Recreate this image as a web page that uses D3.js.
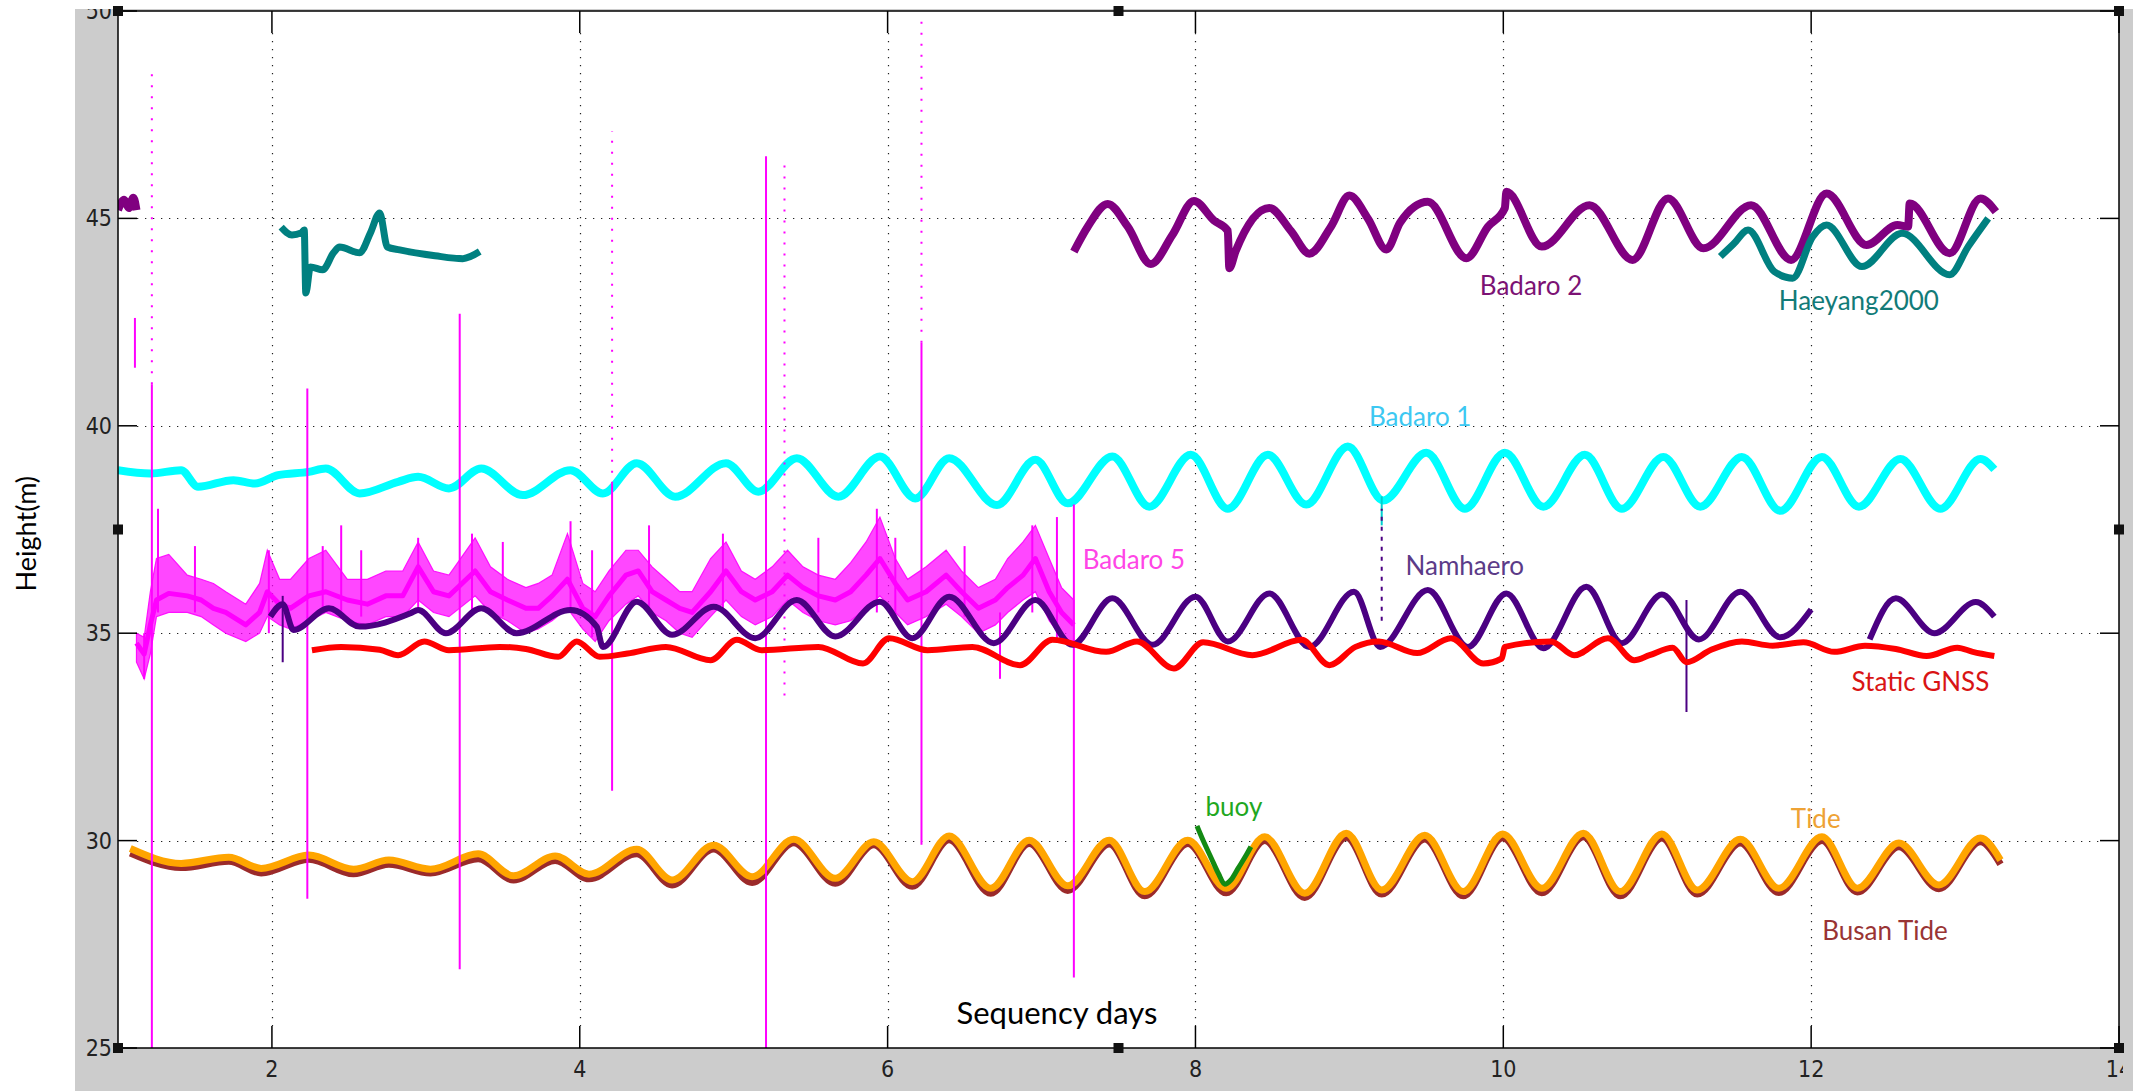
<!DOCTYPE html>
<html>
<head>
<meta charset="utf-8">
<script src="https://cdn.jsdelivr.net/npm/d3@7"></script>
<style>
  html, body { margin: 0; padding: 0; background: #fff; }
  svg { display: block; }
</style>
</head>
<body>
<div id="chart"></div>
<script>
// ---- data (day, height in m) ----
const xTicks = [2, 4, 6, 8, 10, 12, 14];
const yTicks = [25, 30, 35, 40, 45, 50];

const tideDay = [1.08, 1.41, 1.72, 1.93, 2.24, 2.53, 2.76, 3.03, 3.34, 3.57, 3.84, 4.06, 4.37, 4.60, 4.87, 5.12,
  5.39, 5.66, 5.91, 6.16, 6.40, 6.67, 6.92, 7.17, 7.44, 7.67, 7.95, 8.20, 8.45, 8.71, 8.98, 9.21, 9.49, 9.74,
  9.996, 10.25, 10.52, 10.76, 11.03, 11.26, 11.54, 11.79, 12.07, 12.30, 12.57, 12.83, 13.10, 13.23];
const tideH = [29.81, 29.45, 29.60, 29.33, 29.65, 29.31, 29.53, 29.31, 29.68, 29.15, 29.63, 29.19, 29.79, 29.05, 29.89, 29.13,
  30.03, 29.09, 29.97, 29.01, 30.11, 28.85, 30.01, 28.91, 30.01, 28.77, 30.01, 28.85, 30.09, 28.73, 30.18, 28.81, 30.13, 28.77,
  30.16, 28.85, 30.18, 28.77, 30.16, 28.81, 30.03, 28.85, 30.09, 28.85, 29.94, 28.93, 30.06, 29.53];
const busanH = [29.70, 29.35, 29.50, 29.22, 29.55, 29.20, 29.43, 29.22, 29.56, 29.05, 29.52, 29.08, 29.68, 28.93, 29.80, 28.99,
  29.95, 28.97, 29.90, 28.90, 30.02, 28.73, 29.93, 28.80, 29.92, 28.67, 29.93, 28.74, 30.00, 28.63, 30.08, 28.71, 30.04, 28.67,
  30.07, 28.74, 30.09, 28.67, 30.06, 28.71, 29.94, 28.75, 30.00, 28.76, 29.85, 28.84, 29.97, 29.43];

const buoyDay = [8.01, 8.05, 8.10, 8.15, 8.19, 8.23, 8.28, 8.33, 8.36];
const buoyH = [30.35, 30.00, 29.60, 29.20, 28.95, 29.05, 29.35, 29.65, 29.85];

const badaro1Day = [1.00, 1.21, 1.41, 1.52, 1.75, 1.89, 2.04, 2.24, 2.35, 2.57, 2.82, 2.95, 3.15, 3.36, 3.63, 3.94, 4.15,
  4.37, 4.62, 4.95, 5.16, 5.41, 5.68, 5.95, 6.18, 6.40, 6.71, 6.96, 7.17, 7.46, 7.70, 7.97, 8.21, 8.47, 8.72, 8.99,
  9.22, 9.50, 9.75, 10.01, 10.26, 10.53, 10.77, 11.04, 11.28, 11.55, 11.80, 12.07, 12.31, 12.58, 12.84, 13.10, 13.19];
const badaro1H = [38.93, 38.85, 38.93, 38.53, 38.69, 38.61, 38.81, 38.89, 38.97, 38.37, 38.65, 38.77, 38.49, 38.97, 38.33, 38.93, 38.37,
  39.10, 38.29, 39.10, 38.41, 39.22, 38.29, 39.26, 38.25, 39.22, 38.09, 39.18, 38.13, 39.26, 38.05, 39.30, 38.00, 39.30, 38.10, 39.50,
  38.20, 39.35, 38.00, 39.35, 38.05, 39.30, 38.00, 39.25, 38.05, 39.25, 37.95, 39.25, 38.05, 39.20, 38.00, 39.20, 38.95];

const badaro2Day = [1.00, 1.04, 1.07, 1.10, 1.12, null,
  7.21, 7.30, 7.43, 7.56, 7.71, 7.85, 7.99, 8.12, 8.21, 8.22, 8.26, 8.48, 8.62, 8.74, 8.88, 9.00, 9.12, 9.24, 9.33,
  9.51, 9.76, 9.90, 10.01, 10.02, 10.25, 10.56, 10.84, 11.07, 11.30, 11.61, 11.87, 12.10, 12.36, 12.56, 12.63, 12.64,
  12.90, 13.10, 13.20];
const badaro2H = [45.20, 45.45, 45.25, 45.50, 45.20, null,
  44.20, 44.80, 45.35, 44.80, 43.90, 44.60, 45.42, 44.95, 44.70, 43.80, 44.20, 45.25, 44.70, 44.15, 44.80, 45.55, 45.00, 44.25, 44.90,
  45.40, 44.04, 44.80, 45.25, 45.64, 44.32, 45.32, 44.00, 45.48, 44.28, 45.32, 44.00, 45.60, 44.36, 44.84, 44.80, 45.36,
  44.16, 45.48, 45.16];

const haeyangDay = [2.06, 2.13, 2.19, 2.21, 2.22, 2.25, 2.33, 2.40, 2.44, 2.57, 2.64, 2.70, 2.75, 2.83, 3.06, 3.24, 3.35, null,
  11.41, 11.50, 11.59, 11.76, 11.88, 12.01, 12.10, 12.33, 12.59, 12.90, 13.02, 13.15];
const haeyangH = [44.79, 44.60, 44.65, 44.72, 43.20, 43.83, 43.76, 44.17, 44.31, 44.17, 44.65, 45.13, 44.31, 44.24, 44.10, 44.03, 44.20, null,
  44.08, 44.40, 44.72, 43.72, 43.56, 44.56, 44.84, 43.84, 44.64, 43.64, 44.32, 45.00];

const namDay = [1.99, 2.07, 2.14, 2.37, 2.57, 2.90, 2.95, 3.13, 3.36, 3.59, 3.94, 4.11, 4.15, 4.37, 4.60, 4.87, 5.14, 5.41,
  5.66, 5.95, 6.16, 6.40, 6.69, 6.96, 7.20, 7.46, 7.72, 8.00, 8.21, 8.48, 8.74, 9.03, 9.20, 9.51, 9.77, 10.02, 10.26,
  10.54, 10.77, 11.03, 11.27, 11.54, 11.80, 12.00, null, 12.38, 12.55, 12.80, 13.07, 13.19];
const namH = [35.40, 35.70, 35.08, 35.60, 35.16, 35.48, 35.56, 35.00, 35.60, 35.00, 35.56, 35.16, 34.67, 35.76, 34.96, 35.64, 34.88, 35.80,
  34.92, 35.76, 34.88, 35.88, 34.76, 35.80, 34.72, 35.84, 34.72, 35.88, 34.80, 35.96, 34.67, 36.00, 34.67, 36.04, 34.67, 35.96, 34.64,
  36.12, 34.76, 35.93, 34.85, 36.00, 34.90, 35.57, null, 34.85, 35.84, 35.00, 35.75, 35.40];

const gnssDay = [2.26, 2.45, 2.70, 2.82, 2.99, 3.15, 3.48, 3.65, 3.86, 3.98, 4.13, 4.31, 4.56, 4.85, 5.02, 5.18, 5.55, 5.84,
  6.01, 6.26, 6.55, 6.86, 7.07, 7.42, 7.62, 7.86, 8.05, 8.37, 8.69, 8.87, 9.04, 9.19, 9.44, 9.66, 9.87, 9.99, 10.01,
  10.31, 10.46, 10.68, 10.85, 10.95, 11.10, 11.19, 11.35, 11.55, 11.75, 11.95, 12.15, 12.35, 12.55, 12.75, 12.95, 13.05, 13.19];
const gnssH = [34.59, 34.67, 34.60, 34.47, 34.80, 34.59, 34.67, 34.62, 34.43, 34.80, 34.43, 34.51, 34.67, 34.35, 34.84, 34.59, 34.67, 34.27,
  34.88, 34.59, 34.67, 34.23, 34.84, 34.55, 34.80, 34.15, 34.78, 34.47, 34.84, 34.23, 34.67, 34.80, 34.52, 34.88, 34.27, 34.39, 34.67,
  34.80, 34.47, 34.88, 34.35, 34.47, 34.65, 34.30, 34.60, 34.80, 34.70, 34.78, 34.55, 34.70, 34.62, 34.45, 34.65, 34.55, 34.45];

// Badaro 5: noisy band, lower / upper envelope
const b5Day = [1.12, 1.17, 1.21, 1.25, 1.33, 1.45, 1.54, 1.62, 1.70, 1.83, 1.92, 1.97, 2.05, 2.12, 2.24, 2.35, 2.49, 2.62,
  2.74, 2.85, 2.95, 3.05, 3.15, 3.32, 3.42, 3.53, 3.65, 3.73, 3.82, 3.92, 4.02, 4.10, 4.19, 4.30, 4.38, 4.47, 4.56,
  4.65, 4.73, 4.85, 4.95, 5.05, 5.14, 5.25, 5.35, 5.45, 5.55, 5.66, 5.76, 5.86, 5.95, 6.05, 6.13, 6.25, 6.38, 6.48,
  6.59, 6.70, 6.78, 6.88, 6.96, 7.05, 7.13, 7.21];
const b5Lo = [34.3, 33.9, 34.5, 35.4, 35.5, 35.5, 35.4, 35.2, 35.0, 34.8, 35.0, 35.4, 35.2, 35.1, 35.3, 35.5, 35.3, 35.2,
  35.4, 35.4, 35.8, 35.5, 35.4, 35.9, 35.5, 35.3, 35.0, 35.1, 35.3, 35.6, 35.1, 34.8, 35.3, 35.7, 35.9, 35.5, 35.3,
  35.0, 34.9, 35.4, 35.8, 35.4, 35.2, 35.4, 35.8, 35.5, 35.3, 35.2, 35.3, 35.6, 35.9, 35.5, 35.2, 35.4, 35.7, 35.4,
  35.0, 35.2, 35.5, 35.8, 36.0, 35.3, 34.9, 34.7];
const b5Hi = [35.0, 34.9, 36.0, 36.8, 36.9, 36.4, 36.3, 36.2, 36.0, 35.7, 36.2, 37.0, 36.3, 36.3, 36.8, 37.0, 36.3, 36.3,
  36.5, 36.5, 37.2, 36.5, 36.4, 37.3, 36.6, 36.3, 36.1, 36.2, 36.4, 37.4, 36.2, 36.0, 36.5, 37.0, 37.0, 36.6, 36.3,
  36.0, 36.0, 36.8, 37.2, 36.5, 36.3, 36.6, 37.0, 36.6, 36.4, 36.3, 36.7, 37.2, 37.8, 36.8, 36.3, 36.6, 37.0, 36.5,
  36.1, 36.3, 36.8, 37.2, 37.6, 36.8, 36.1, 35.8];
// centre of the band (densest trace)
const b5Mid = [34.76, 34.5, 35.2, 35.8, 35.96, 35.9, 35.8, 35.6, 35.5, 35.2, 35.5, 36.0, 35.7, 35.6, 35.9, 36.0, 35.8, 35.7,
  35.9, 35.9, 36.6, 36.0, 35.9, 36.5, 36.0, 35.8, 35.6, 35.6, 35.9, 36.3, 35.6, 35.4, 35.9, 36.4, 36.5, 36.0, 35.8,
  35.6, 35.5, 36.0, 36.5, 36.0, 35.8, 36.0, 36.4, 36.1, 35.9, 35.8, 36.0, 36.4, 36.8, 36.2, 35.8, 36.0, 36.4, 36.0,
  35.6, 35.8, 36.1, 36.4, 36.8, 36.0, 35.5, 35.2];
const b5SpikeDay = [1.11, 1.17, 1.22, 1.26, 1.50, 1.98, 2.23, 2.33, 2.45, 2.58, 2.95, 3.22, 3.30, 3.50, 3.94, 4.08,
  4.21, 4.45, 4.93, 5.21, 5.55, 5.93, 6.05, 6.22, 6.50, 6.73, 6.94, 7.10, 7.21];
const b5SpikeLo = [41.4, 33.9, 25.0, 35.5, 35.5, 35.0, 28.6, 35.5, 35.5, 35.4, 35.5, 26.9, 35.5, 35.4, 35.5, 34.9,
  31.2, 35.5, 35.5, 25.0, 35.5, 35.5, 35.4, 29.9, 35.4, 33.9, 35.5, 34.8, 26.7];
const b5SpikeHi = [42.6, 35.0, 41.0, 38.0, 37.1, 37.0, 40.9, 37.1, 37.6, 37.0, 37.3, 42.7, 37.4, 37.2, 37.7, 37.0,
  38.6, 37.6, 37.4, 46.5, 37.3, 38.0, 37.3, 42.0, 37.1, 35.5, 37.6, 37.8, 38.1];
const b5DotDay = [1.22, 4.21, 5.33, 6.22];
const b5DotLo = [41.0, 38.6, 33.5, 42.0];
const b5DotHi = [48.5, 47.1, 46.3, 49.9];

const namSpikeDay = [2.07, 11.19];
const namSpikeLo = [34.3, 33.1];
const namSpikeHi = [35.9, 35.8];
const namDotDay = [9.21];
const namDotLo = [35.3];
const namDotHi = [38.0];
const b1SpikeDay = [9.21];
const b1SpikeLo = [37.6];
const b1SpikeHi = [38.3];

// ---- layout ----
const W = 2133, H = 1091;
const margin = { top: 11, right: 14, bottom: 43, left: 118 };
const labelFont = "Lato, 'Open Sans', sans-serif";
const tickFont = "'Liberation Sans Narrow', 'DejaVu Sans Condensed', 'Liberation Sans', sans-serif";

const svg = d3.select("#chart").append("svg")
  .attr("width", W)
  .attr("height", H);

const defs = svg.append("defs");
defs.append("clipPath").attr("id", "figClip")
  .append("rect").attr("x", 0).attr("y", 9).attr("width", 2123).attr("height", H - 9);
defs.append("clipPath").attr("id", "plotClip")
  .append("rect").attr("x", margin.left).attr("y", margin.top)
  .attr("width", W - margin.left - margin.right).attr("height", H - margin.top - margin.bottom);

const x = d3.scaleLinear().domain([1, 14]).range([margin.left, W - margin.right]);
const y = d3.scaleLinear().domain([25, 50]).range([H - margin.bottom, margin.top]);

// figure background (matlab grey) and white axes area
svg.append("rect").attr("x", 75).attr("y", 9).attr("width", W - 75).attr("height", H - 9).attr("fill", "#cccccc");
svg.append("rect").attr("x", x(1)).attr("y", y(50)).attr("width", x(14) - x(1)).attr("height", y(25) - y(50)).attr("fill", "#fff");

// grid
const gridG = svg.append("g").attr("class", "gridG")
  .attr("stroke", "#222").attr("stroke-width", 1.2).attr("stroke-dasharray", "1.3,6.7");
gridG.selectAll(".gx").data(xTicks.filter(d => d < 14)).join("line")
  .attr("x1", d => Math.round(x(d)) + 0.5).attr("x2", d => Math.round(x(d)) + 0.5)
  .attr("y1", y(50) + 22).attr("y2", y(25) - 22);
gridG.selectAll(".gy").data(yTicks.filter(d => d > 25 && d < 50)).join("line")
  .attr("y1", d => Math.round(y(d)) + 0.5).attr("y2", d => Math.round(y(d)) + 0.5)
  .attr("x1", x(1) + 19).attr("x2", x(14) - 19);

// series
const plotG = svg.append("g").attr("clip-path", "url(#plotClip)");
const lineOf = (days, vals, curve) => d3.line()
  .defined(i => days[i] !== null && vals[i] !== null)
  .x(i => x(days[i])).y(i => y(vals[i]))
  .curve(curve || d3.curveMonotoneX)(d3.range(days.length));

function drawLine(days, vals, color, width, curve) {
  plotG.append("path")
    .attr("d", lineOf(days, vals, curve))
    .attr("fill", "none")
    .attr("stroke", color)
    .attr("stroke-width", width)
    .attr("stroke-linejoin", "round");
}
function drawSpikes(days, lo, hi, color, width, dash) {
  plotG.append("g").selectAll("line").data(d3.range(days.length)).join("line")
    .attr("x1", i => x(days[i])).attr("x2", i => x(days[i]))
    .attr("y1", i => y(lo[i])).attr("y2", i => y(hi[i]))
    .attr("stroke", color).attr("stroke-width", width)
    .attr("stroke-dasharray", dash || null);
}

drawLine(tideDay, busanH, "#9b2a2a", 7);
drawLine(tideDay, tideH, "#ffa500", 7);
drawLine(buoyDay, buoyH, "#138a13", 5);
drawLine(badaro1Day, badaro1H, "#00ffff", 8);
drawSpikes(b1SpikeDay, b1SpikeLo, b1SpikeHi, "#00d0d0", 2);
drawLine(badaro2Day, badaro2H, "#800080", 8);
drawLine(haeyangDay, haeyangH, "#008080", 7);

plotG.append("path")
  .attr("d", d3.area()
    .x(i => x(b5Day[i])).y0(i => y(b5Lo[i])).y1(i => y(b5Hi[i]))
    .curve(d3.curveLinear)(d3.range(b5Day.length)))
  .attr("fill", "#ff00ff").attr("fill-opacity", 0.72)
  .attr("stroke", "#ff00ff").attr("stroke-width", 1.2).attr("stroke-opacity", 0.9);
drawLine(b5Day, b5Mid, "#ff00ff", 5, d3.curveLinear);
drawSpikes(b5SpikeDay, b5SpikeLo, b5SpikeHi, "#ff00ff", 2);
drawSpikes(b5DotDay, b5DotLo, b5DotHi, "#ff00ff", 2, "2,9");

drawLine(namDay, namH, "#4b0082", 6);
drawSpikes(namSpikeDay, namSpikeLo, namSpikeHi, "#4b0082", 2);
drawSpikes(namDotDay, namDotLo, namDotHi, "#4b0082", 2, "4,6");
drawLine(gnssDay, gnssH, "#ff0000", 6);

// axes box + inward ticks
const axG = svg.append("g").attr("class", "axesG").attr("stroke", "#000").attr("stroke-width", 1.5);
axG.append("rect").attr("x", x(1)).attr("y", y(50)).attr("width", x(14) - x(1)).attr("height", y(25) - y(50))
  .attr("fill", "none");
axG.selectAll(".tb").data(xTicks).join("line")
  .attr("x1", d => x(d)).attr("x2", d => x(d)).attr("y1", y(25)).attr("y2", y(25) - 22);
axG.selectAll(".tt").data(xTicks).join("line")
  .attr("x1", d => x(d)).attr("x2", d => x(d)).attr("y1", y(50)).attr("y2", y(50) + 22);
axG.selectAll(".tl").data(yTicks).join("line")
  .attr("y1", d => y(d)).attr("y2", d => y(d)).attr("x1", x(1)).attr("x2", x(1) + 19);
axG.selectAll(".tr").data(yTicks).join("line")
  .attr("y1", d => y(d)).attr("y2", d => y(d)).attr("x1", x(14)).attr("x2", x(14) - 19);

// selection handles
const handleX = [1, 7.5, 14], handleY = [25, 37.5, 50];
const handles = [];
handleX.forEach(hx => handleY.forEach(hy => { if (!(hx === 7.5 && hy === 37.5)) handles.push([hx, hy]); }));
svg.append("g").selectAll("rect").data(handles).join("rect")
  .attr("x", d => x(d[0]) - 5).attr("y", d => y(d[1]) - 5)
  .attr("width", 10).attr("height", 10).attr("fill", "#111");

// tick labels
const tickG = svg.append("g").attr("clip-path", "url(#figClip)")
  .attr("font-family", tickFont).attr("font-size", 23).attr("fill", "#222");
tickG.selectAll(".xl").data(xTicks).join("text")
  .attr("x", d => x(d)).attr("y", y(25) + 29).attr("text-anchor", "middle").text(d => d);
tickG.selectAll(".yl").data(yTicks).join("text")
  .attr("x", x(1) - 6).attr("y", d => y(d) + 8).attr("text-anchor", "end").text(d => d);

// axis titles
svg.append("text").attr("x", x(7.1)).attr("y", y(25) - 24)
  .attr("text-anchor", "middle").attr("font-family", labelFont).attr("font-size", 31).attr("fill", "#000")
  .text("Sequency days");
svg.append("text").attr("transform", `translate(36, ${y(37.4)}) rotate(-90)`)
  .attr("text-anchor", "middle").attr("font-family", labelFont).attr("font-size", 27).attr("fill", "#000")
  .text("Height(m)");

// series labels
const labels = [
  { text: "Badaro 2", day: 10.18, h: 43.15, color: "#7c1274" },
  { text: "Haeyang2000", day: 12.31, h: 42.8, color: "#127b78" },
  { text: "Badaro 1", day: 9.46, h: 40.0, color: "#3cc8f2" },
  { text: "Badaro 5", day: 7.6, h: 36.55, color: "#ff45e6" },
  { text: "Namhaero", day: 9.75, h: 36.4, color: "#5b3b88" },
  { text: "Static GNSS", day: 12.71, h: 33.6, color: "#d91414" },
  { text: "buoy", day: 8.25, h: 30.6, color: "#1fa81f" },
  { text: "Tide", day: 12.03, h: 30.3, color: "#eea235" },
  { text: "Busan Tide", day: 12.48, h: 27.6, color: "#993434" }
];
svg.append("g").selectAll("text").data(labels).join("text")
  .attr("x", d => x(d.day)).attr("y", d => y(d.h))
  .attr("text-anchor", "middle")
  .attr("font-family", labelFont).attr("font-size", 26)
  .attr("fill", d => d.color)
  .text(d => d.text);
</script>
</body>
</html>
